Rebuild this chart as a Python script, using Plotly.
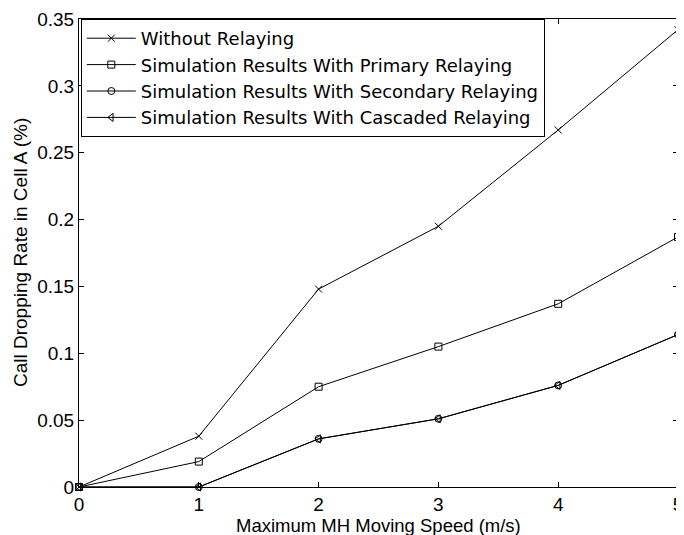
import plotly.graph_objects as go

speed = [0, 1, 2, 3, 4, 5]
without_relaying = [0, 0.038, 0.148, 0.195, 0.267, 0.342]
primary = [0, 0.019, 0.075, 0.105, 0.137, 0.187]
secondary = [0, 0, 0.036, 0.051, 0.076, 0.114]
cascaded = [0, 0, 0.036, 0.051, 0.076, 0.114]

names = ["Without Relaying",
         "Simulation Results With Primary Relaying",
         "Simulation Results With Secondary Relaying",
         "Simulation Results With Cascaded Relaying"]
symbols = ["x-thin-open", "square-open", "circle-open", "triangle-left-open"]
series = [without_relaying, primary, secondary, cascaded]

x_title = "Maximum MH Moving Speed (m/s)"
y_title = "Call Dropping Rate in Cell A (%)"

fam = "Liberation Sans, Arial, Helvetica, sans-serif"
leg_fam = "DejaVu Sans, Liberation Sans, sans-serif"

fig = go.Figure()
for n, s, y in zip(names, symbols, series):
    fig.add_trace(go.Scatter(
        x=speed, y=y, name=n, mode="lines+markers", cliponaxis=False,
        line=dict(color="black", width=1),
        marker=dict(symbol=s, size=7, color="black", line=dict(color="black", width=1)),
    ))

# page body has an 8px margin, so the figure is sized/offset to compensate
fig.update_layout(
    width=676, height=527,
    margin=dict(l=71, r=6, t=11, b=48, autoexpand=False),
    plot_bgcolor="white", paper_bgcolor="white",
    font=dict(family=fam, size=19, color="black"),
    showlegend=True,
    legend=dict(x=0.003, y=1.0, xanchor="left", yanchor="top",
                bgcolor="white", bordercolor="black", borderwidth=1,
                font=dict(family=leg_fam, size=18, color="black"),
                itemwidth=49, tracegroupgap=0),
    annotations=[
        dict(text=x_title, xref="paper", yref="paper", x=0.5, y=0,
             xanchor="center", yanchor="top", yshift=-26, showarrow=False,
             font=dict(family=fam, size=18.5, color="black")),
        dict(text=y_title, xref="paper", yref="paper", x=0, y=0.5,
             xanchor="center", yanchor="middle", xshift=-59, textangle=-90,
             showarrow=False, font=dict(family=fam, size=19, color="black")),
    ],
)
fig.update_xaxes(
    range=[0, 5], dtick=1, tick0=0, automargin=False, ticklabeloverflow="allow",
    showline=True, linecolor="black", linewidth=1, mirror="ticks",
    ticks="inside", ticklen=5, tickcolor="black", showgrid=False, zeroline=False,
    tickfont=dict(family=fam, size=19, color="black"),
)
fig.update_yaxes(
    range=[0, 0.35], dtick=0.05, tick0=0, automargin=False, ticklabeloverflow="allow",
    showline=True, linecolor="black", linewidth=1, mirror="ticks",
    ticks="inside", ticklen=5, tickcolor="black", showgrid=False, zeroline=False,
    tickfont=dict(family=fam, size=19, color="black"),
)
fig.write_html("out.html")
